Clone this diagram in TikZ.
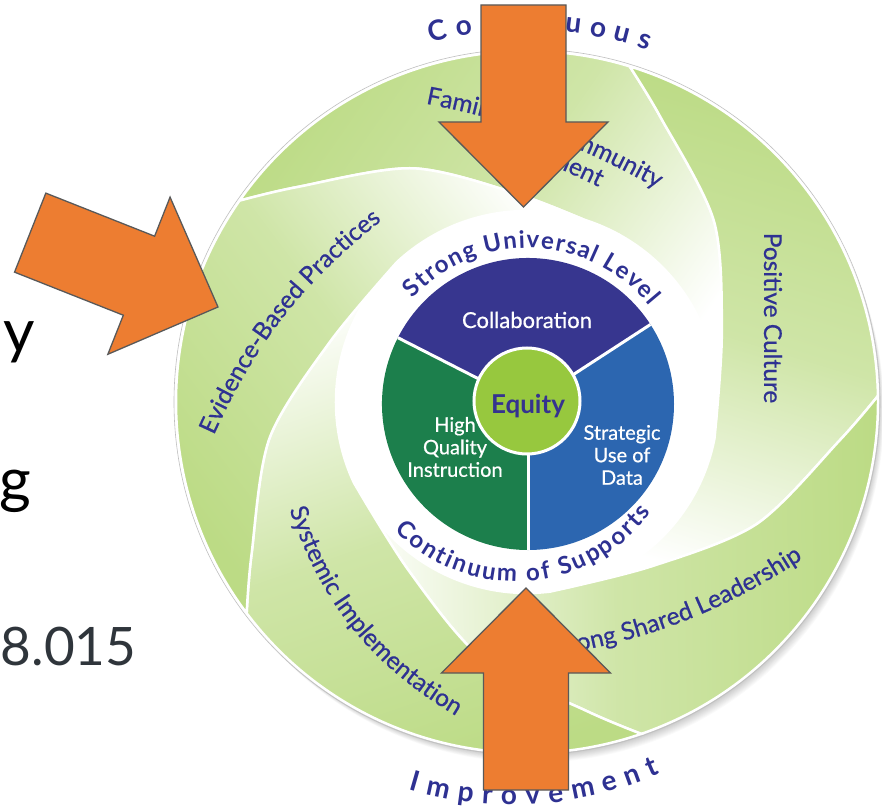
\documentclass[tikz,border=0pt]{standalone}
\usepackage{fontspec}
\setmainfont{Lato}
\newfontfamily\medfamily[FakeBold=0.6]{Lato}
\usetikzlibrary{decorations.text}

\definecolor{bandgreen}{HTML}{BCDB85}
\definecolor{labelblue}{HTML}{2E3192}
\definecolor{collabblue}{HTML}{37368F}
\definecolor{hqigreen}{HTML}{1C7F4C}
\definecolor{datablue}{HTML}{2C66B0}
\definecolor{equitygreen}{HTML}{97C83E}
\definecolor{equityblue}{HTML}{35338F}
\definecolor{arroworange}{HTML}{ED7D31}
\definecolor{arrowedge}{HTML}{595959}
\definecolor{slidegray}{HTML}{2F353B}

\newcommand{\bandfont}{\medfamily\fontsize{24.5}{24.5}\selectfont}
\newcommand{\ringfont}{\fontsize{24}{24}\selectfont\bfseries}
\newcommand{\outerfont}{\fontsize{28}{28}\selectfont\bfseries}

\tikzset{
  band/.style={draw=white, line width=2.5, top color=bandgreen, bottom color=white, middle color=bandgreen!72!white},
  pietext/.style={text=white, font=\medfamily\fontsize{20}{22.5}\selectfont, align=center},
  slidetext/.style={anchor=base east, font=\fontsize{61}{61}\selectfont},
  bigarrow/.pic={
    \draw[fill=arroworange, draw=arrowedge, line width=1.3, line join=miter]
      (0,0) -- (-85,84.5) -- (-85,42.5) -- (-202,42.5) -- (-202,-42.5) -- (-85,-42.5) -- (-85,-84.5) -- cycle;
  },
}

\begin{document}
\begin{tikzpicture}[x=1pt, y=1pt]
\useasboundingbox (-527,-406) rectangle (355,402);
\fill[white] (-527,-406) rectangle (355,402);

% what is left of the slide text
\node[slidetext] (ytail) at (-489,49) {y};
\node[slidetext] (gtail) at (-492,-99) {g};
\node[slidetext, text=slidegray, font=\fontsize{53}{53}\selectfont] (number) at (-387,-263) {8.015};

% soft shadow of the wheel
\foreach \i in {1,...,12}
  \fill[black, opacity=0.018] (\i*0.5,-\i*0.8) circle (351);

% swirl bands
\foreach \a/\sa in {145/55, 73/-17, 1/-89, -71/-161, -143/-233} {
  \draw[band, shading angle=\sa]
    plot[smooth] coordinates {(\a:351) ({\a-8}:315) ({\a-29}:260) ({\a-54}:206) ({\a-84}:191)}
    arc[start angle=\a-84, end angle=\a-156, radius=191]
    -- plot[smooth] coordinates {({\a-156}:191) ({\a-126}:206) ({\a-101}:260) ({\a-80}:315) ({\a-72}:351)}
    arc[start angle=\a-72, end angle=\a, radius=351] -- cycle;
}
\draw[black!25, line width=0.6] (0,0) circle (353);

% band labels
\path[decorate, decoration={text along path, text align=center, text color=labelblue,
  text={|\bandfont|Family and Community}}]
  (-126,303) to[bend left=10] (152,201);
\path[decorate, decoration={text along path, text align=center, text color=labelblue,
  text={|\bandfont|Engagement}}]
  (-76,272) to[bend left=5] (94,204);
\node[rotate=-90, text=labelblue, font=\bandfont] (culture) at (246,84) {Positive Culture};
\path[decorate, decoration={text along path, text align=center, text color=labelblue,
  text={|\bandfont|Strong Shared Leadership}}]
  (-20,-260) to[bend right=14] (310,-134);
\path[decorate, decoration={text along path, text align=center, text color=labelblue,
  text={|\bandfont|Systemic Implementation}}]
  (-246,-80) to[bend right=23] (-46,-328);
\path[decorate, decoration={text along path, text align=center, text color=labelblue,
  text={|\bandfont|Evidence-Based Practices}}]
  (-324,-58) to[bend left=15] (-124,198);

% inner disk
\fill[white] (0,0) circle (191);
\coordinate (pie) at (1,-2);
\fill[collabblue] (pie) -- ++(33:146) arc[start angle=33, end angle=153, radius=146] -- cycle;
\fill[hqigreen] (pie) -- ++(153:146) arc[start angle=153, end angle=270, radius=146] -- cycle;
\fill[datablue] (pie) -- ++(270:146) arc[start angle=270, end angle=393, radius=146] -- cycle;
\foreach \d in {33,153,270}
  \draw[white, line width=3] (pie) -- ++(\d:146);
\node[circle, fill=equitygreen, draw=white, line width=3, minimum size=106, inner sep=0] (equity) at (0,1) {};
\node[anchor=base, text=equityblue, font=\fontsize{26}{26}\selectfont\bfseries] (equitytext) at (1,-11) {Equity};
\node[pietext, font=\medfamily\fontsize{22}{22}\selectfont] (collab) at (0,82) {Collaboration};
\node[pietext] (hqi) at (-72,-45) {High\\Quality\\Instruction};
\node[pietext] (data) at (95,-53) {Strategic\\Use of\\Data};

\begin{scope}[shift={(pie)}]
\path[decorate, decoration={text along path, text align=fit to path, text color=labelblue,
  text={|\ringfont|Strong Universal Level}}]
  (137.5:156) arc[start angle=137.5, end angle=39, radius=156];
\path[decorate, decoration={text along path, text align=fit to path, text color=labelblue,
  text={|\ringfont|Continuum of Supports}}]
  ([shift={(-13,-9.4)}]224:168) arc[start angle=224, end angle=324, radius=168];
\end{scope}

% outer words
\path[decorate, decoration={text along path, text align=fit to path, text color=labelblue,
  text={|\outerfont|Continuous}}]
  (105:372) arc[start angle=105, end angle=71, radius=372];
\path[decorate, decoration={text along path, text align=fit to path, text color=labelblue,
  text={|\outerfont|Improvement}}]
  ([shift={(-15,-43)}]253.3:360) arc[start angle=253.3, end angle=294.3, radius=360];

% orange arrows
\pic[rotate=-90] at (-3.5,195) {bigarrow};
\pic[rotate=90] at (-1,-186) {bigarrow};
\pic[rotate=-21.6] at (-309,95) {bigarrow};
\end{tikzpicture}
\end{document}
